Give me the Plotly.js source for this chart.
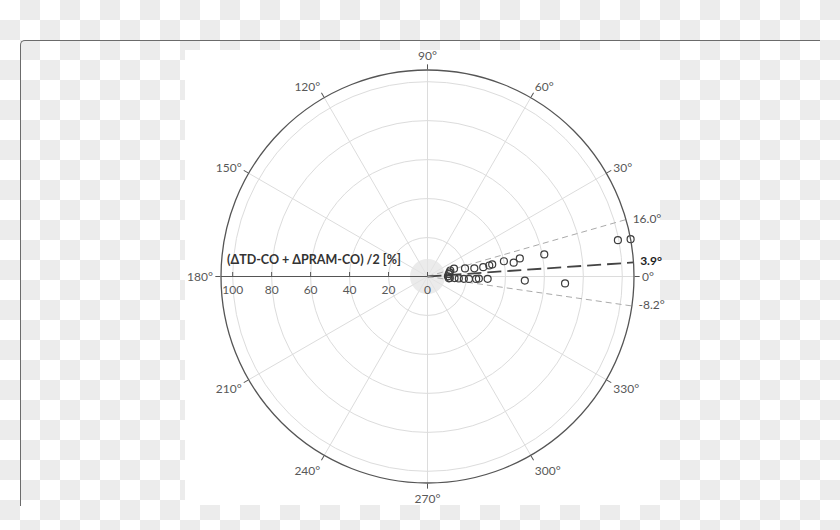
<!DOCTYPE html>
<html>
<head>
<meta charset="utf-8">
<script src="https://cdn.plot.ly/plotly-3.0.1.min.js"></script>
<style>
  html, body { margin: 0; padding: 0; }
  body {
    width: 840px; height: 530px; overflow: hidden; position: relative;
    background: repeating-conic-gradient(#ececec 0 25%, #ffffff 0 50%) 0 0 / 40px 40px;
  }
  #frame {
    position: absolute; left: 20px; top: 40px; width: 800px; height: 466px;
    border-top: 1.5px solid #6b6b6b; border-left: 1.5px solid #6b6b6b;
    border-top-left-radius: 5px; box-sizing: border-box;
  }
  #sheet { position: absolute; left: 185px; top: 50px; width: 475px; height: 455px; background: #fff; }
  #chart { position: absolute; left: 185px; top: 30px; width: 520px; height: 500px; }
</style>
</head>
<body>
<div id="frame"></div>
<div id="sheet"></div>
<div id="chart"></div>
<script>
// measured points: radius in %, angle in degrees
const pointR = [106, 99.5, 61, 48.3, 44.8, 40, 33.8, 32.2, 29, 24.4, 19.7, 14.2, 12.1, 11.5, 11,
                70.7, 50, 30.9, 26.4, 25, 21.3, 18.7, 16.1, 13.9, 11.5, 10.5, 11];
const pointTheta = [10.4, 10.8, 10.7, 11.1, 9.1, 11.3, 10.6, 10.1, 9.5, 9.9, 12.2, 16.5, 14.8, 10.5, 6.5,
                    -2.9, -2.4, -2.2, -2.3, -2.8, -3.3, -3.7, -3.7, -3.4, -4, 0.5, -5];

// reference directions
const refAngles = [16.0, 3.9, -8.2];
const refLabels = ['16.0°', '3.9°', '-8.2°'];

const rMax = 106;
const radialTicks = [0, 20, 40, 60, 80, 100];
const hubRadius = [9];

const font = 'Lato, "Liberation Sans", sans-serif';
const traces = [];

// grey hub in the middle
traces.push({
    type: 'barpolar', r: hubRadius, theta: [0], width: [360],
    marker: { color: '#e4e4e4', line: { width: 0 } }, opacity: 0.75,
    hoverinfo: 'skip', showlegend: false
});

// dashed reference lines
refAngles.forEach(function (a, i) {
    const main = i === 1;
    traces.push({
        type: 'scatterpolar', mode: 'lines',
        r: [0, rMax], theta: [a, a],
        line: main ? { color: '#444', width: 1.8, dash: '14px,6px' }
                   : { color: '#aaa', width: 1, dash: '6px,4px' },
        hoverinfo: 'skip', showlegend: false
    });
});

// labels for the reference lines, on the rim (invisible marker pushes text out)
traces.push({
    type: 'scatterpolar', mode: 'markers+text',
    r: refAngles.map(function () { return rMax; }), theta: refAngles,
    text: refLabels.map(function (t, i) { return i === 1 ? '<b>' + t + '</b>' : t; }),
    textposition: 'middle right', cliponaxis: false,
    marker: { size: 9, color: 'rgba(0,0,0,0)' },
    textfont: { family: font, size: 12, color: ['#555', '#222', '#555'] },
    hoverinfo: 'skip', showlegend: false
});

// data points
traces.push({
    type: 'scatterpolar', mode: 'markers',
    r: pointR, theta: pointTheta, cliponaxis: false,
    marker: { symbol: 'circle-open', size: 7, color: '#3c3c3c', line: { width: 1.2 } },
    showlegend: false
});

const layout = {
    width: 520, height: 500,
    margin: { l: 36, r: 71, t: 40, b: 47 },
    paper_bgcolor: 'rgba(0,0,0,0)',
    showlegend: false,
    font: { family: font, size: 12, color: '#595959' },
    polar: {
        bgcolor: 'rgba(0,0,0,0)',
        radialaxis: {
            range: [0, rMax], angle: 180, side: 'counterclockwise',
            tickvals: radialTicks, ticks: 'inside', ticklen: 4, tickcolor: '#555',
            showline: true, linecolor: '#555', linewidth: 1,
            gridcolor: '#dcdcdc', gridwidth: 1, tickangle: 180,
            tickfont: { family: font, size: 12, color: '#595959' }
        },
        angularaxis: {
            rotation: 0, direction: 'counterclockwise', dtick: 30,
            ticks: 'outside', ticklen: 5, tickcolor: '#555',
            linecolor: '#555', linewidth: 1.3,
            gridcolor: '#dcdcdc', gridwidth: 1,
            tickfont: { family: font, size: 12, color: '#595959' }
        }
    },
    annotations: [{
        xref: 'paper', yref: 'paper', x: 0.01, y: 0.542, xanchor: 'left', yanchor: 'middle',
        text: '<b>(ΔTD-CO + ΔPRAM-CO) /2 [%]</b>', showarrow: false,
        font: { family: font, size: 12.5, color: '#333' }
    }]
};

Plotly.newPlot('chart', traces, layout, { displayModeBar: false, staticPlot: true });
</script>
</body>
</html>
